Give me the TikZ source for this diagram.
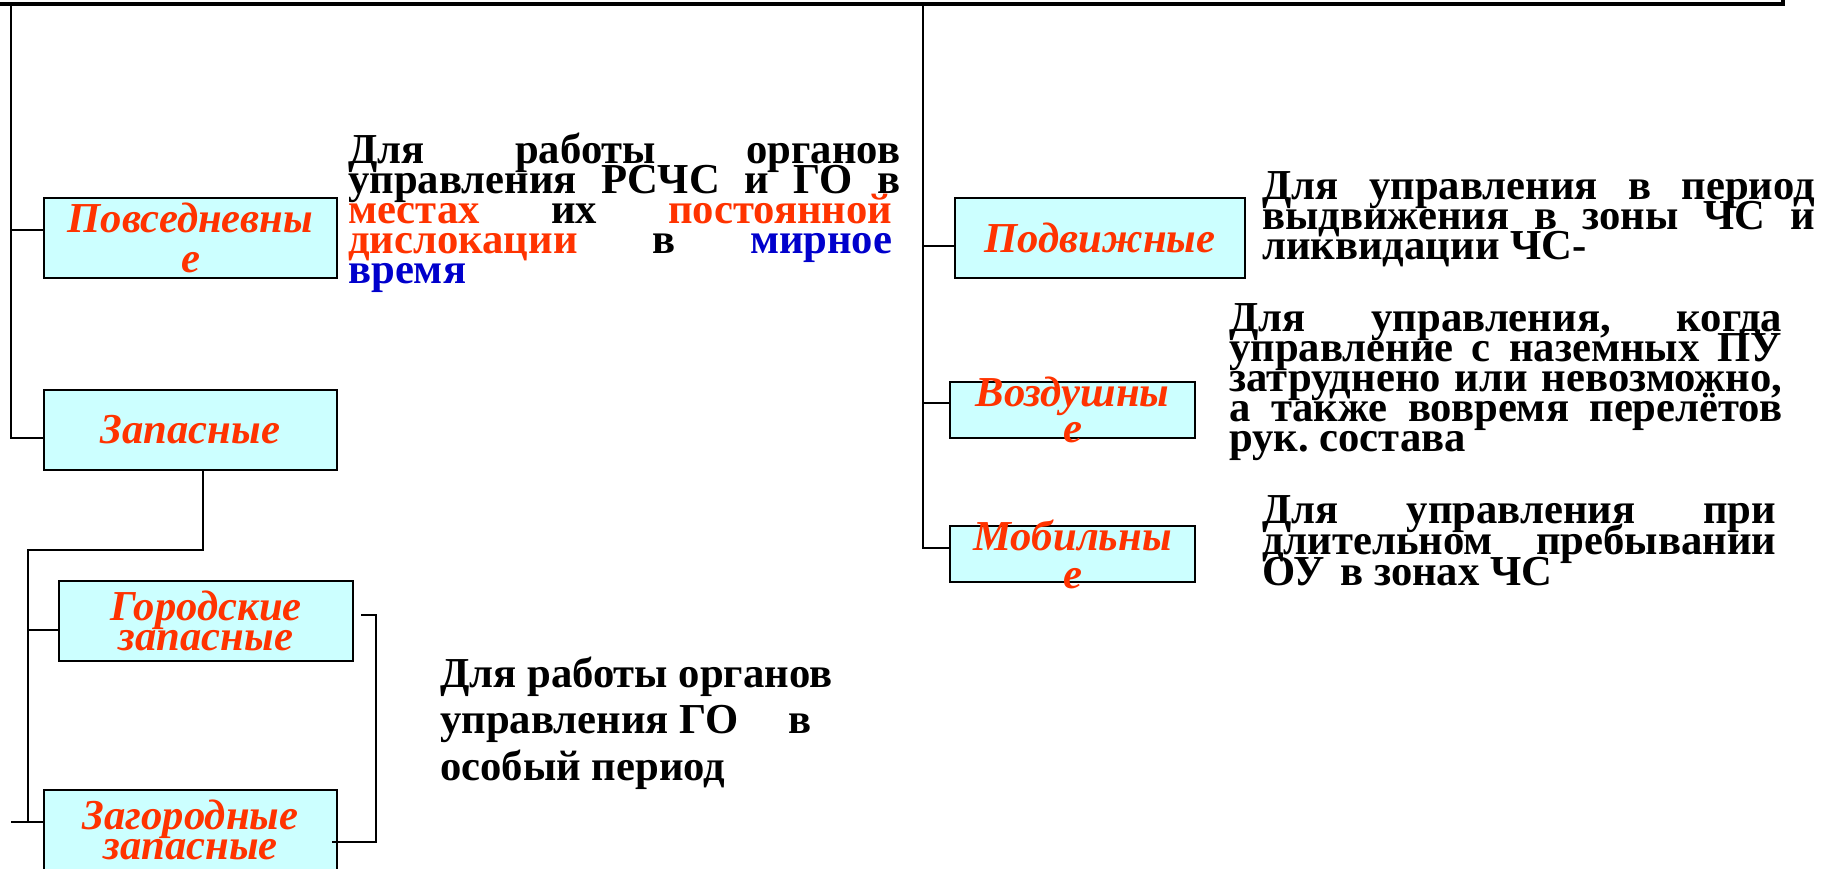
\documentclass[tikz,border=0pt]{standalone}
\usepackage{fontspec}
\setmainfont{Liberation Serif}
\usepackage{xcolor}
\usepackage{tikz}
\usetikzlibrary{positioning,calc}

\definecolor{lblred}{RGB}{255,51,0}
\definecolor{txtblue}{RGB}{0,0,204}
\definecolor{boxfill}{RGB}{204,255,255}

\newcommand{\jline}[2][0pt]{\makebox[\dimexpr\hsize-#1\relax][s]{#2}}
\newcommand{\descfont}[1]{\fontsize{32}{#1}\selectfont\bfseries\frenchspacing\lineskiplimit=-100pt}
\newcommand{\lblfont}[1]{\fontsize{32}{#1}\selectfont\bfseries\itshape\lineskiplimit=-100pt}

\tikzset{
  frame/.style={line width=3pt},
  conn/.style={line width=1.5pt},
  box/.style={draw, fill=boxfill, line width=1.9pt, inner sep=0pt, minimum width=219.75pt, minimum height=60pt},
  smallbox/.style={box, minimum width=183.75pt, minimum height=42pt},
  lbl/.style={text=lblred, font=\lblfont{#1}, align=center, inner sep=0pt},
  lbl/.default=30pt,
  desc/.style={font=\descfont{#1}, anchor=base west, inner sep=0pt, align=justify},
  desc/.default=22.5pt,
}

\begin{document}
\begin{tikzpicture}[x=0.75pt,y=0.75pt,yscale=-1,xscale=1]
\useasboundingbox (0,0) rectangle (1822,868);

%Shape: Rectangle
\node [box] (pov) at (190.5,238) {};
\node [box] (zap) at (190.5,430) {};
\node [box, minimum width=220.5pt] (gor) at (206,621) {};
\node [box] (zag) at (190.5,830) {};
\node [box, minimum width=217.5pt] (podv) at (1100,238) {};
\node [smallbox] (vozd) at (1072.5,410) {};
\node [smallbox] (mob) at (1072.5,554) {};

%Points
\coordinate (topL) at (0,4);
\coordinate (topR) at (1783,4);
\coordinate (topRup) at (1783,-6);
\coordinate (trunkL) at (11,4);
\coordinate (trunkR) at (923,4);
\coordinate (zapDrop) at (203,550);
\coordinate (subTrunk) at (28,822);
\coordinate (brA) at (361,615);
\coordinate (brB) at (376,615);
\coordinate (brC) at (376,842);
\coordinate (brD) at (332,842);
\coordinate (povIn) at ($(pov.west)+(0,-8)$);
\coordinate (zapIn) at ($(zap.west)+(0,8)$);
\coordinate (gorIn) at ($(gor.west)+(0,9)$);
\coordinate (zagIn) at ($(zag.west)+(0,-8)$);
\coordinate (podvIn) at ($(podv.west)+(0,8)$);
\coordinate (vozdIn) at ($(vozd.west)+(0,-7)$);
\coordinate (mobIn) at ($(mob.west)+(0,-6)$);

%Straight Lines
\draw [frame] (topL) -- (topR) -- (topRup);
%Straight Lines
\draw [conn] (trunkL) -- (trunkL |- zapIn) -- (zapIn);
\draw [conn] (povIn -| trunkL) -- (povIn);
%Straight Lines
\draw [conn] (zap.south -| zapDrop) -- (zapDrop) -- (zapDrop -| subTrunk) -- (subTrunk);
\draw [conn] (gorIn -| subTrunk) -- (gorIn);
\draw [conn] (zagIn -| trunkL) -- (zagIn);
%Straight Lines
\draw [conn] (brA) -- (brB) -- (brC) -- (brD);
%Straight Lines
\draw [conn] (trunkR) -- (trunkR |- mobIn) -- (mobIn);
\draw [conn] (podvIn -| trunkR) -- (podvIn);
\draw [conn] (vozdIn -| trunkR) -- (vozdIn);

% Text Node
\node [lbl] (pov-t) at (pov) {Повседневны\\е};
% Text Node
\node [lbl] (zap-t) at (zap) {Запасные};
% Text Node
\node [lbl=23pt] (gor-t) at (gor) {Городские\\запасные};
% Text Node
\node [lbl=23pt] (zag-t) at (zag) {Загородные\\запасные};
% Text Node
\node [lbl] (podv-t) at (podv) {Подвижные};
% Text Node
\node [lbl=27pt] (vozd-t) at (vozd) {Воздушны\\е};
% Text Node
\node [lbl=28.5pt] (mob-t) at (mob) {Мобильны\\е};

% Text Node
\node [desc, text width=414pt] (povDesc) at (348,163) {\jline{Для работы органов}\\
\jline{управления РСЧС и ГО в}\\
\jline[6pt]{\textcolor{lblred}{местах} их \textcolor{lblred}{постоянной}}\\
\jline[6pt]{\textcolor{lblred}{дислокации} в \textcolor{txtblue}{мирное}}\\
\textcolor{txtblue}{время}};
% Text Node
\node [desc, text width=414.75pt] (podvDesc) at (1262,199) {\jline{Для управления в период}\\
\jline{выдвижения в зоны ЧС и}\\
ликвидации ЧС-};
% Text Node
\node [desc, text width=414.75pt] (vozdDesc) at (1229,331) {\jline{Для управления, когда}\\
\jline{управление с наземных ПУ}\\
\jline{затруднено или невозможно,}\\
\jline{а также вовремя перелётов}\\
рук. состава};
% Text Node
\node [desc=23.6pt, text width=385.5pt] (mobDesc) at (1262,523) {\jline{Для управления при}\\
\jline{длительном пребывании}\\
ОУ\hspace{4pt} в зонах ЧС};
% Text Node
\node [desc=35pt, text width=300pt] (zapDesc) at (440,687) {Для работы органов\\
управления ГО\hspace{29.5pt} в\\
особый период};

\end{tikzpicture}
\end{document}
